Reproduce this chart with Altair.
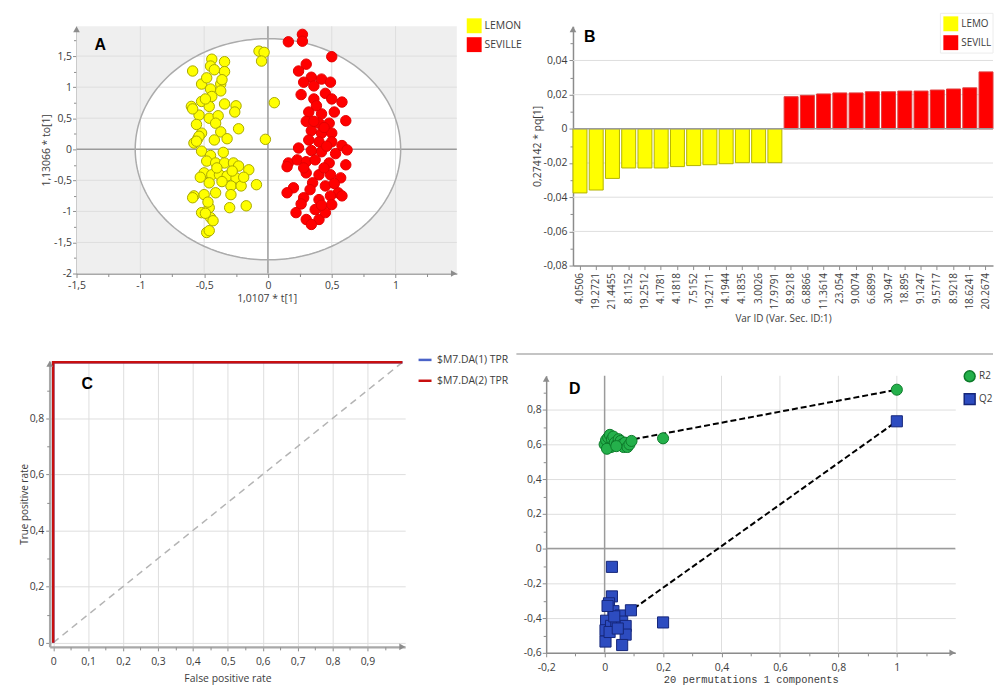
import json
import numpy as np
import pandas as pd
import altair as alt

FONT = "Open Sans"
TXT = "#3c3c3c"
AX = "#8c8c8c"
GRID = "#dedede"
FS = 10.5

# ---------------- Panel A : OPLS-DA scores ----------------
groups = ["LEMON", "SEVILLE"]
group_fill = ["#ffff00", "#ff0000"]
group_edge = ["#a9a900", "#e30000"]
lemon_t = [-0.59, -0.44, -0.45, -0.34, -0.34, -0.52, -0.45, -0.37, -0.37, -0.07,
           -0.03, -0.05, -0.60, -0.52, -0.46, -0.54, -0.46, -0.39, -0.34, -0.25,
           -0.26, -0.41, -0.37, -0.23, 0.05, -0.02, -0.55, -0.58, -0.52, -0.42,
           -0.32, -0.52, -0.45, -0.48, -0.41, -0.34, -0.27, -0.23, -0.15, -0.50,
           -0.44, -0.38, -0.32, -0.25, -0.46, -0.29, -0.21, -0.09, -0.58, -0.50,
           -0.41, -0.29, -0.46, -0.30, -0.17, -0.52, -0.45, -0.48, -0.46, -0.59,
           -0.40, -0.36, -0.53, -0.47, -0.43, -0.49, -0.35, -0.56, -0.44, -0.48,
           -0.42, -0.36, -0.28, -0.19, -0.59, -0.49, -0.54, -0.56]
lemon_to = [1.26, 1.45, 1.34, 1.41, 1.25, 1.05, 0.97, 1.05, 0.94, 1.58,
            1.56, 1.42, 0.69, 0.77, 0.69, 0.55, 0.50, 0.54, 0.73, 0.70,
            0.60, 0.42, 0.28, 0.33, 0.75, 0.16, 0.17, 0.10, 0.26, 0.15,
            0.17, -0.03, -0.10, -0.19, -0.22, -0.22, -0.22, -0.27, -0.33, -0.38,
            -0.41, -0.41, -0.43, -0.46, -0.54, -0.59, -0.59, -0.57, -0.75, -0.73,
            -0.70, -0.73, -0.94, -0.94, -0.91, -1.02, -1.10, -1.34, -1.31, -0.78,
            -0.30, -0.52, -0.45, -0.85, -1.15, -1.03, -0.05, 0.40, 0.85, 1.15,
            1.28, 1.12, -0.35, -0.45, 0.65, 0.81, 0.21, 0.13]
seville_t = [0.16, 0.27, 0.27, 0.50, 0.30, 0.24, 0.34, 0.42, 0.49, 0.28,
             0.36, 0.45, 0.36, 0.50, 0.58, 0.32, 0.42, 0.52, 0.61, 0.30,
             0.40, 0.48, 0.34, 0.42, 0.50, 0.32, 0.40, 0.50, 0.58, 0.62,
             0.24, 0.34, 0.42, 0.53, 0.16, 0.23, 0.30, 0.37, 0.48, 0.61,
             0.30, 0.40, 0.49, 0.57, 0.35, 0.45, 0.20, 0.55, 0.28, 0.40,
             0.49, 0.58, 0.22, 0.30, 0.40, 0.45, 0.37, 0.34, 0.50, 0.15,
             0.15, 0.38, 0.44, 0.28, 0.44, 0.33, 0.42, 0.26, 0.52, 0.36,
             0.46, 0.26]
seville_to = [1.73, 1.85, 1.74, 1.49, 1.37, 1.26, 1.16, 1.13, 1.08, 1.08,
              1.02, 0.90, 0.81, 0.81, 0.76, 0.60, 0.57, 0.60, 0.46, 0.45,
              0.42, 0.42, 0.30, 0.26, 0.26, 0.15, 0.12, 0.12, 0.06, -0.01,
              0.02, -0.02, -0.04, -0.07, -0.22, -0.17, -0.20, -0.17, -0.22, -0.25,
              -0.38, -0.41, -0.41, -0.46, -0.54, -0.59, -0.62, -0.70, -0.78, -0.81,
              -0.75, -0.75, -1.02, -1.13, -1.13, -1.02, -0.97, -1.21, -0.89, -0.28,
              -0.70, 0.70, 0.35, -0.30, -0.30, -0.65, -0.90, -0.88, -0.55, 0.45,
              0.05, 0.88]
ellipse_radii = [1.04, 1.78]
a_x_domain = [-1.5, 1.48]
a_y_domain = [-2, 1.98]
a_x_ticks = [-1.5, -1, -0.5, 0, 0.5, 1]
a_y_ticks = [-2, -1.5, -1, -0.5, 0, 0.5, 1, 1.5]
a_x_minor = [-1.25, -0.75, -0.25, 0.25, 0.75, 1.25]
a_y_minor = [-1.75, -1.25, -0.75, -0.25, 0.25, 0.75, 1.25, 1.75]

# ---------------- Panel B : loadings ----------------
b_var_ids = ["4.0506", "19.2721", "21.4455", "8.1152", "19.2512", "4.1781", "4.1818",
             "7.5152", "19.2711", "4.1944", "4.1835", "3.0026", "17.9791", "8.9218",
             "6.8866", "11.3614", "23.054", "9.0074", "6.6899", "30.947", "18.895",
             "9.1247", "9.5717", "8.9218", "18.6241", "20.2674"]
b_loadings = [-0.0375, -0.0358, -0.0290, -0.0229, -0.0229, -0.0229, -0.0221,
              -0.0215, -0.0210, -0.0204, -0.0198, -0.0198, -0.0198, 0.0188,
              0.0196, 0.0204, 0.0210, 0.0210, 0.0217, 0.0217, 0.0221,
              0.0221, 0.0227, 0.0233, 0.0240, 0.0333]
b_class = ["LEMON"] * 13 + ["SEVILLE"] * 13
b_y_domain = [-0.08, 0.06]
b_y_ticks = [-0.08, -0.06, -0.04, -0.02, 0, 0.02, 0.04]
b_y_minor = [-0.07, -0.05, -0.03, -0.01, 0.01, 0.03, 0.05]

# ---------------- Panel C : ROC ----------------
roc_series = ["$M7.DA(1) TPR", "$M7.DA(2) TPR"]
roc_colors = ["#4a63c8", "#c80f0f"]
roc_fpr = [0, 0, 1]
roc_tpr = [0, 1, 1]
diag_fpr = [0, 1]
diag_tpr = [0, 1]
c_x_domain = [-0.01, 1.008]
c_y_domain = [-0.015, 1.005]
c_x_ticks = [0, 0.1, 0.2, 0.3, 0.4, 0.5, 0.6, 0.7, 0.8, 0.9]
c_y_ticks = [0, 0.2, 0.4, 0.6, 0.8]
c_x_minor = [0.05, 0.15, 0.25, 0.35, 0.45, 0.55, 0.65, 0.75, 0.85, 0.95]
c_y_minor = [0.1, 0.3, 0.5, 0.7, 0.9]

# ---------------- Panel D : permutation test ----------------
perm_series = ["R2", "Q2"]
perm_fill = ["#24b04b", "#2d4cc0"]
perm_edge = ["#0d7a2a", "#15267a"]
perm_shape = ["circle", "square"]
r2_x = [1.0, 0.2, 0.0, 0.005, 0.012, 0.018, 0.025, 0.03, 0.022, 0.008, 0.035,
        0.042, 0.048, 0.055, 0.06, 0.065, 0.07, 0.078, 0.085, 0.092, 0.04]
r2_y = [0.915, 0.635, 0.60, 0.625, 0.64, 0.655, 0.63, 0.645, 0.585, 0.575, 0.61,
        0.60, 0.63, 0.62, 0.60, 0.585, 0.61, 0.585, 0.60, 0.62, 0.59]
q2_x = [1.0, 0.2, 0.025, 0.025, 0.015, 0.03, 0.005, 0.003, 0.022, 0.04, 0.055,
        0.06, 0.072, 0.072, 0.09, 0.003, 0.06, 0.033, 0.017, 0.045, 0.01]
q2_y = [0.733, -0.425, -0.105, -0.275, -0.315, -0.36, -0.415, -0.47, -0.445, -0.425, -0.385,
        -0.42, -0.445, -0.495, -0.355, -0.535, -0.555, -0.39, -0.48, -0.46, -0.33]
r2_fit_x = [0.1, 1.0]
r2_fit_y = [0.63, 0.915]
q2_fit_x = [0.1, 1.0]
q2_fit_y = [-0.345, 0.733]
d_x_domain = [-0.2, 1.2]
d_y_domain = [-0.6, 0.995]
d_x_ticks = [-0.2, 0, 0.2, 0.4, 0.6, 0.8, 1]
d_y_ticks = [-0.6, -0.4, -0.2, 0, 0.2, 0.4, 0.6, 0.8]
d_x_minor = [-0.1, 0.1, 0.3, 0.5, 0.7, 0.9, 1.1]
d_y_minor = [-0.5, -0.3, -0.1, 0.1, 0.3, 0.5, 0.7, 0.9]

# ---------------- helpers ----------------
COMMA = "replace(toString(datum.value), '.', ',')"


def ax(orient, values, title, **kw):
    o = dict(orient=orient, values=values, labelExpr=COMMA, title=title,
             domainColor=AX, domainWidth=1.5, tickColor=AX, tickSize=4,
             labelColor=TXT, labelFont=FONT, labelFontSize=FS,
             titleColor=TXT, titleFont=FONT, titleFontSize=FS, titleFontWeight="normal",
             labelFlush=False, labelOverlap=False, grid=False, labelPadding=2, titlePadding=2)
    o.update(kw)
    return alt.Axis(**o)


def minor(channel, values, scale, orient, offset=0):
    a = alt.Axis(orient=orient, values=values, labels=False, domain=False, ticks=True,
                 tickSize=3, tickColor=AX, grid=False, title=None, offset=offset)
    enc = alt.X("m:Q", scale=scale, axis=a) if channel == "x" else alt.Y("m:Q", scale=scale, axis=a)
    return alt.Chart(pd.DataFrame({"m": values})).mark_rule(opacity=0).encode(**{channel: enc})


def arrow(shape, x, y):
    return alt.Chart(pd.DataFrame({"a": [0]})).mark_point(
        shape=shape, filled=True, size=45, color=AX, opacity=1).encode(
        x=alt.value(x), y=alt.value(y))


def letter(ch, x, y):
    return alt.Chart(pd.DataFrame({"L": [ch]})).mark_text(
        align="left", baseline="alphabetic", font="Liberation Sans", fontSize=16,
        fontWeight="bold", color="black").encode(x=alt.value(x), y=alt.value(y), text="L:N")


# ---------------- Panel A ----------------
OA = 27                     # plot starts 27px right of the column edge
WA, HA = OA + 383, 249
sx_a = alt.Scale(domain=a_x_domain, range=[OA, WA], nice=False, zero=False)
sy_a = alt.Scale(domain=a_y_domain, nice=False, zero=False)
half = np.linspace(0.0, np.pi, 121)
ell_fill_df = pd.DataFrame({"ex": ellipse_radii[0] * np.cos(half),
                            "ehi": ellipse_radii[1] * np.sin(half),
                            "elo": -ellipse_radii[1] * np.sin(half)})
ring = np.linspace(0.0, 2 * np.pi, 241)
ell_ring_df = pd.DataFrame({"ex": ellipse_radii[0] * np.cos(ring),
                            "ey": ellipse_radii[1] * np.sin(ring),
                            "k": np.arange(ring.size)})
scores_df = pd.DataFrame({"t": lemon_t + seville_t, "to": lemon_to + seville_to,
                          "grp": [groups[0]] * len(lemon_t) + [groups[1]] * len(seville_t)})
one = pd.DataFrame({"k": [0]})

a_bg = alt.Chart(one).mark_rect(color="#efefef").encode(
    x=alt.value(OA), x2=alt.value(WA), y=alt.value(0), y2=alt.value(HA))
a_fill = alt.Chart(ell_fill_df).mark_area(color="white", opacity=1).encode(
    x=alt.X("ex:Q", scale=sx_a, axis=None), y=alt.Y("ehi:Q", scale=sy_a, axis=None), y2="elo:Q")
a_gx = alt.Chart(pd.DataFrame({"g": [v for v in a_x_ticks if v not in (0, a_x_ticks[0])]})).mark_rule(
    color=GRID).encode(x=alt.X("g:Q", scale=sx_a, axis=None))
a_gy = alt.Chart(pd.DataFrame({"g": [v for v in a_y_ticks if v not in (0, a_y_ticks[0])]})).mark_rule(
    color=GRID).encode(y=alt.Y("g:Q", scale=sy_a, axis=None), x=alt.value(OA), x2=alt.value(WA))
a_zx = alt.Chart(pd.DataFrame({"z": [0]})).mark_rule(color="#9b9b9b", strokeWidth=1.5).encode(
    x=alt.X("z:Q", scale=sx_a, axis=None))
a_zy = alt.Chart(pd.DataFrame({"z": [0]})).mark_rule(color="#9b9b9b", strokeWidth=1.5).encode(
    y=alt.Y("z:Q", scale=sy_a, axis=None), x=alt.value(OA), x2=alt.value(WA))
a_ring = alt.Chart(ell_ring_df).mark_line(color="#ababab", strokeWidth=1.5).encode(
    x=alt.X("ex:Q", scale=sx_a, axis=None), y=alt.Y("ey:Q", scale=sy_a, axis=None), order="k:Q")
a_pts = alt.Chart(scores_df).mark_circle(size=110, opacity=1, strokeWidth=1).encode(
    x=alt.X("t:Q", scale=sx_a, axis=ax("bottom", a_x_ticks, "1,0107 * t[1]", labelPadding=3, titlePadding=3)),
    y=alt.Y("to:Q", scale=sy_a, axis=ax("left", a_y_ticks, "1,13066 * to[1]", labelPadding=1,
                                         titlePadding=2, offset=-OA)),
    color=alt.Color("grp:N", scale=alt.Scale(domain=groups, range=group_fill),
                    legend=alt.Legend(title=None, orient="none", legendX=OA + 393, legendY=-8,
                                      symbolType="square", symbolSize=225, symbolStrokeWidth=0,
                                      symbolOpacity=1, labelFont=FONT, labelFontSize=FS,
                                      labelColor=TXT, rowPadding=4, labelOffset=3, padding=0)),
    stroke=alt.Stroke("grp:N", scale=alt.Scale(domain=groups, range=group_edge), legend=None))

panel_a = alt.layer(
    a_bg, a_fill, a_gx, a_gy, a_zx, a_zy, a_ring, a_pts,
    minor("x", a_x_minor, sx_a, "bottom"), minor("y", a_y_minor, sy_a, "left", offset=-OA),
    arrow("triangle-up", OA, 3), arrow("triangle-right", WA - 3, HA), letter("A", OA + 18, 24),
).resolve_axis(x="independent", y="independent").properties(width=WA, height=HA)

# ---------------- Panel B ----------------
OB = 27
WB, HB = OB + 423, 241
sx_b = alt.Scale(domain=list(range(len(b_var_ids))), range=[OB, WB], paddingInner=0.14, paddingOuter=0)
sy_b = alt.Scale(domain=b_y_domain, nice=False, zero=False)
load_df = pd.DataFrame({"idx": list(range(len(b_var_ids))), "val": b_loadings, "cls": b_class})
b_grid = alt.Chart(pd.DataFrame({"g": [v for v in b_y_ticks if v not in (0, b_y_ticks[0])]})).mark_rule(
    color=GRID).encode(y=alt.Y("g:Q", scale=sy_b, axis=None), x=alt.value(OB), x2=alt.value(WB))
b_bars = alt.Chart(load_df).mark_bar(strokeWidth=1, opacity=1).encode(
    x=alt.X("idx:O", scale=sx_b, axis=alt.Axis(
        orient="bottom", labelExpr=json.dumps(b_var_ids) + "[datum.value]", labelAngle=270,
        title="Var ID (Var. Sec. ID:1)", domainColor=AX, domainWidth=1.5, tickColor=AX, tickSize=4,
        labelColor=TXT, labelFont=FONT, labelFontSize=10, labelPadding=3, labelOverlap=False,
        titleColor=TXT, titleFont=FONT, titleFontSize=10, titleFontWeight="normal", titlePadding=4)),
    y=alt.Y("val:Q", scale=sy_b, axis=ax("left", b_y_ticks, "0,274142 * pq[1]", labelPadding=2,
                                          titlePadding=1, offset=-OB)),
    color=alt.Color("cls:N", scale=alt.Scale(domain=groups, range=group_fill), legend=None),
    stroke=alt.Stroke("cls:N", scale=alt.Scale(domain=groups, range=["#b3b300", "#e03a3a"]), legend=None))
b_zero = alt.Chart(pd.DataFrame({"z": [0]})).mark_rule(color="#9b9b9b", strokeWidth=1.5).encode(
    y=alt.Y("z:Q", scale=sy_b, axis=None), x=alt.value(OB), x2=alt.value(WB))
b_legend = [alt.Chart(one).mark_rect(color="white", stroke="#ececec").encode(
    x=alt.value(OB + 370), x2=alt.value(WB), y=alt.value(-13), y2=alt.value(27))]
for i, (name, col) in enumerate(zip(groups, group_fill)):
    d = pd.DataFrame({"name": [name]})
    yc = -2.5 + 19 * i
    b_legend.append(alt.Chart(d).mark_square(size=225, color=col, opacity=1).encode(
        x=alt.value(OB + 380.5), y=alt.value(yc)))
    b_legend.append(alt.Chart(d).mark_text(align="left", baseline="middle", font=FONT, fontSize=10,
                                           color=TXT, limit=32, ellipsis="\u200b").encode(
        x=alt.value(OB + 391), y=alt.value(yc), text="name:N"))

panel_b = alt.layer(
    b_grid, b_bars, b_zero, minor("y", b_y_minor, sy_b, "left", offset=-OB),
    arrow("triangle-up", OB, 3), letter("B", OB + 11, 16), *b_legend
).resolve_axis(y="independent").properties(width=WB, height=HB)

# ---------------- Panel C ----------------
WC, HC = 358, 288
sx_c = alt.Scale(domain=c_x_domain, nice=False, zero=False)
sy_c = alt.Scale(domain=c_y_domain, nice=False, zero=False)
diag_df = pd.DataFrame({"fpr": diag_fpr, "tpr": diag_tpr})
c_diag = alt.Chart(diag_df).mark_line(color="#b4b4b4", strokeWidth=1.5, strokeDash=[7, 5]).encode(
    x=alt.X("fpr:Q", scale=sx_c, axis=ax("bottom", c_x_ticks, "False positive rate", grid=True,
                                          gridColor=GRID, domainColor="#a8a8a8", domainWidth=2.5,
                                          labelPadding=6, titlePadding=6)),
    y=alt.Y("tpr:Q", scale=sy_c, axis=ax("left", c_y_ticks, "True positive rate", grid=True,
                                          gridColor=GRID, domainColor="#a8a8a8", domainWidth=2.5,
                                          labelPadding=2, titlePadding=0, titleFontSize=10)))
c_legend = alt.Legend(title=None, orient="none", legendX=370, legendY=-9, symbolType="stroke",
                      symbolSize=170, symbolStrokeWidth=2.5, labelFont=FONT, labelFontSize=FS,
                      labelColor=TXT, rowPadding=7, labelOffset=4, padding=0)
c_lines = []
for name in roc_series:
    df = pd.DataFrame({"fpr": roc_fpr, "tpr": roc_tpr, "roc": [name] * len(roc_fpr),
                       "step": list(range(len(roc_fpr)))})
    c_lines.append(alt.Chart(df).mark_line(strokeWidth=2.5).encode(
        x=alt.X("fpr:Q", scale=sx_c, axis=None), y=alt.Y("tpr:Q", scale=sy_c, axis=None),
        order="step:Q",
        color=alt.Color("roc:N", scale=alt.Scale(domain=roc_series, range=roc_colors), legend=c_legend)))

panel_c = alt.layer(
    c_diag, *c_lines, minor("x", c_x_minor, sx_c, "bottom"), minor("y", c_y_minor, sy_c, "left"),
    arrow("triangle-up", 0, 3), arrow("triangle-right", WC - 3, HC), letter("C", 32, 28),
).resolve_axis(x="independent", y="independent").properties(width=WC, height=HC)

# ---------------- Panel D ----------------
OD = 15                     # plot starts 15px below the row edge
WD, HD = 412, OD + 279
sx_d = alt.Scale(domain=d_x_domain, nice=False, zero=False)
sy_d = alt.Scale(domain=d_y_domain, range=[HD, OD], nice=False, zero=False)
perm_df = pd.DataFrame({"px": r2_x + q2_x, "py": r2_y + q2_y,
                        "perm": [perm_series[0]] * len(r2_x) + [perm_series[1]] * len(q2_x)})
d_leg = alt.Legend(title=None, orient="none", legendX=420, legendY=OD - 6, symbolSize=120,
                   labelFont=FONT, labelFontSize=10, labelColor=TXT, rowPadding=6,
                   labelOffset=3, padding=0, symbolOpacity=1)
d_gx = alt.Chart(pd.DataFrame({"g": [v for v in d_x_ticks if v not in (0, d_x_ticks[0])],
                               "y0": d_y_domain[0], "y1": d_y_domain[1]})).mark_rule(color=GRID).encode(
    x=alt.X("g:Q", scale=sx_d, axis=None), y=alt.Y("y0:Q", scale=sy_d, axis=None), y2="y1:Q")
d_zx = alt.Chart(pd.DataFrame({"z": [0], "y0": d_y_domain[0], "y1": d_y_domain[1]})).mark_rule(
    color="#9b9b9b", strokeWidth=1.5).encode(
    x=alt.X("z:Q", scale=sx_d, axis=None), y=alt.Y("y0:Q", scale=sy_d, axis=None), y2="y1:Q")
d_zy = alt.Chart(pd.DataFrame({"z": [0]})).mark_rule(color="#9b9b9b", strokeWidth=1.5).encode(
    y=alt.Y("z:Q", scale=sy_d, axis=None))
d_fits = []
for fx, fy in [(r2_fit_x, r2_fit_y), (q2_fit_x, q2_fit_y)]:
    d_fits.append(alt.Chart(pd.DataFrame({"fx": fx, "fy": fy})).mark_line(
        color="black", strokeWidth=2, strokeDash=[6, 3]).encode(
        x=alt.X("fx:Q", scale=sx_d, axis=None), y=alt.Y("fy:Q", scale=sy_d, axis=None)))
d_pts = alt.Chart(perm_df).mark_point(filled=True, opacity=1, size=125, strokeWidth=1).encode(
    x=alt.X("px:Q", scale=sx_d, axis=ax("bottom", d_x_ticks, "20 permutations 1 components",
                                         labelPadding=6, titlePadding=1,
                                         titleFont="Liberation Mono", titleFontSize=10.5)),
    y=alt.Y("py:Q", scale=sy_d, axis=ax("left", d_y_ticks, None, grid=True, gridColor=GRID,
                                         labelPadding=1)),
    color=alt.Color("perm:N", scale=alt.Scale(domain=perm_series, range=perm_fill), legend=d_leg),
    shape=alt.Shape("perm:N", scale=alt.Scale(domain=perm_series, range=perm_shape), legend=d_leg),
    stroke=alt.Stroke("perm:N", scale=alt.Scale(domain=perm_series, range=perm_edge), legend=None))
d_sep = alt.Chart(one).mark_rule(color="#c4c4c4", strokeWidth=2).encode(
    x=alt.value(-30), x2=alt.value(450), y=alt.value(OD - 22))

panel_d = alt.layer(
    d_gx, d_zx, d_zy, *d_fits, d_pts, minor("x", d_x_minor, sx_d, "bottom"),
    minor("y", d_y_minor, sy_d, "left"),
    arrow("triangle-up", 0, OD + 3), arrow("triangle-right", WD - 3, HD), letter("D", 23, OD + 18), d_sep,
).resolve_axis(x="independent", y="independent").properties(width=WD, height=HD)

# ---------------- layout ----------------
chart = alt.concat(
    panel_a, panel_b, panel_c, panel_d,
    columns=2, spacing={"row": 88, "column": 90}, align="each", bounds="flush",
).resolve_scale(color="independent", stroke="independent", shape="independent").properties(
    padding={"left": 11, "top": 2, "right": 0, "bottom": 0}
).configure(font=FONT).configure_view(stroke=None)

chart.save("out.html", embed_options={"renderer": "svg", "actions": False})
